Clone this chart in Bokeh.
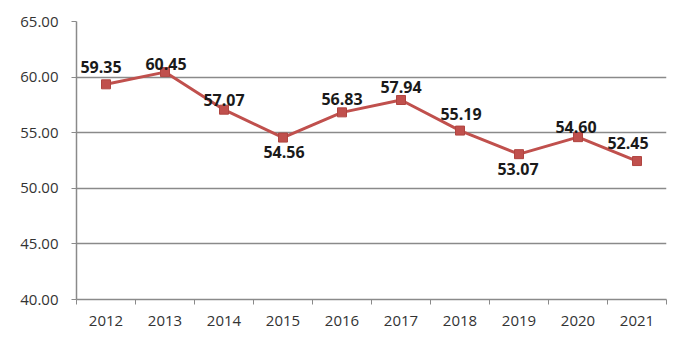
from bokeh.plotting import figure
from bokeh.models import ColumnDataSource, Range1d, FixedTicker, NumeralTickFormatter
from bokeh.embed import file_html
from bokeh.resources import INLINE
from bokeh.core.properties import value

years = ["2012", "2013", "2014", "2015", "2016", "2017", "2018", "2019", "2020", "2021"]
values = [59.35, 60.45, 57.07, 54.56, 56.83, 57.94, 55.19, 53.07, 54.60, 52.45]
y_ticks = [40, 45, 50, 55, 60, 65]

# label placement (screen pixels) relative to each point
label_dx = [-5, 1, 0, 1, 0, 0, 1, -1, -2, -9]
label_dy = [-17, -8, -10, 14, -13, -13, -17, 15, -10, -18]

xs = list(range(1, len(years) + 1))
src = ColumnDataSource(dict(
    x=xs, y=values, label=["%.2f" % v for v in values],
    dx=label_dx, dy=label_dy,
))

p = figure(width=685, height=353, output_backend="svg", toolbar_location=None,
           x_range=Range1d(0.5, len(years) + 0.5), y_range=Range1d(40, 65),
           min_border_left=76, min_border_right=19, min_border_top=21, min_border_bottom=54)
p.outline_line_color = None
p.background_fill_color = "white"
p.border_fill_color = "white"

gray = "#8a8a8a"
font = "Open Sans"

# x axis
xa = p.xaxis[0]
xa.ticker = FixedTicker(ticks=xs, minor_ticks=[i + 0.5 for i in range(0, len(years) + 1)])
xa.major_label_overrides = {i: y for i, y in zip(xs, years)}
xa.major_tick_in = 0
xa.major_tick_out = 0
xa.minor_tick_in = 0
xa.minor_tick_out = 5
xa.minor_tick_line_color = gray
xa.axis_line_color = gray
xa.axis_line_width = 1.5
xa.major_label_text_font = font
xa.major_label_text_font_size = "15px"
xa.major_label_text_color = "#333333"
xa.major_label_standoff = 11

# y axis
ya = p.yaxis[0]
ya.ticker = FixedTicker(ticks=y_ticks)
ya.formatter = NumeralTickFormatter(format="0.00")
ya.major_tick_in = 0
ya.major_tick_out = 5
ya.minor_tick_line_color = None
ya.major_tick_line_color = gray
ya.axis_line_color = gray
ya.axis_line_width = 1.5
ya.major_label_text_font = font
ya.major_label_text_font_size = "15px"
ya.major_label_text_color = "#333333"
ya.major_label_standoff = 13

p.xgrid.grid_line_color = None
p.ygrid.grid_line_color = gray
p.ygrid.grid_line_width = 1.3

color = "#C0504D"
p.line("x", "y", source=src, line_color=color, line_width=3)
p.scatter("x", "y", source=src, marker="square", size=9, fill_color=color, line_color="#B04540")
p.text("x", "y", text="label", source=src, x_offset="dx", y_offset="dy",
       text_align="center", text_baseline="middle",
       text_font=value(font), text_font_size="16px", text_font_style="bold",
       text_color="#1a1a1a")

open("out.html", "w").write(file_html(p, INLINE))
